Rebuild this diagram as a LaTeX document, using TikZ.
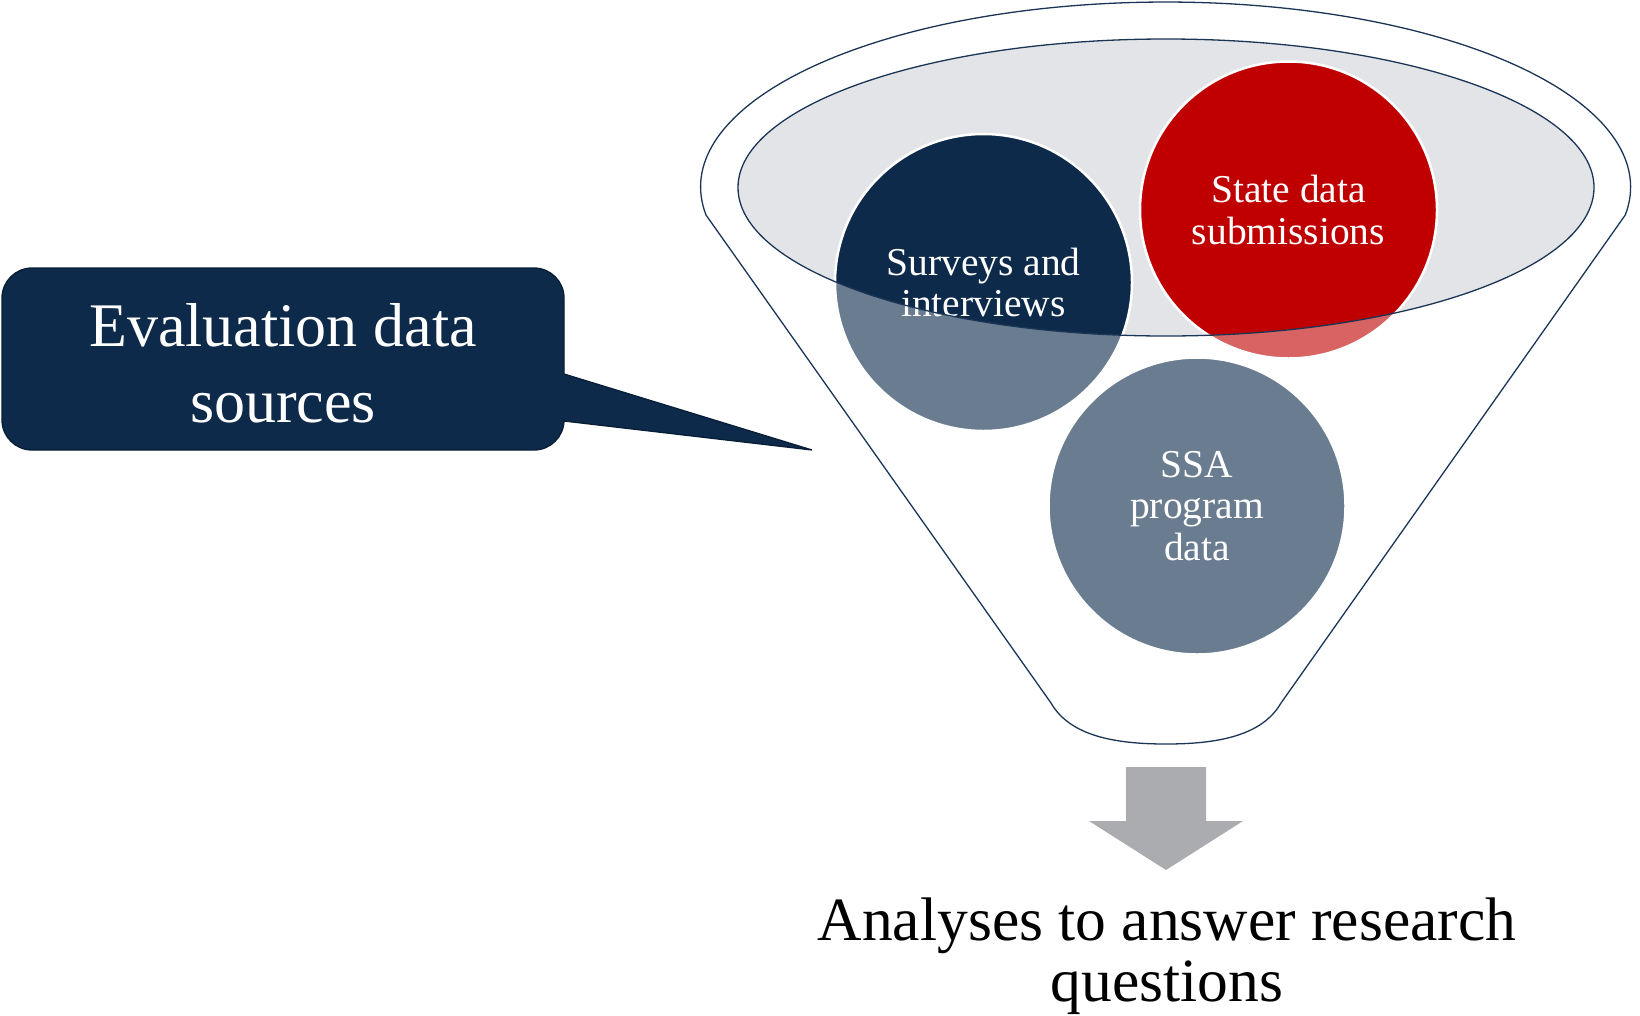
\documentclass[tikz,border=0pt]{standalone}
\usepackage{fontspec}
\setmainfont{Liberation Serif}
\definecolor{navy}{RGB}{13,42,74}
\definecolor{sred}{RGB}{192,0,0}
\definecolor{fline}{RGB}{27,53,86}
\definecolor{fgrey}{RGB}{227,228,231}
\definecolor{agrey}{RGB}{171,172,176}
\definecolor{cborder}{RGB}{8,30,55}
\begin{document}
\begin{tikzpicture}[x=1pt,y=-1pt,
  srccircle/.style={circle, minimum size=297pt, inner sep=0pt, draw=white, line width=2.5pt,
    text=white, align=center, font=\fontsize{39.5}{41.5}\selectfont},
  funnelline/.style={draw=fline, line width=1.3pt},
  bigtext/.style={align=center, inner sep=0pt}]
\useasboundingbox (0,0) rectangle (1640,1015);

% grey mouth of the funnel
\fill[fgrey] (1166,187.5) ellipse [x radius=428, y radius=148.5];

% data source circles
\node[srccircle, fill=navy] (surveys) at (983.5,282.5) {Surveys and\\interviews};
\node[srccircle, fill=sred] (state) at (1288.5,210) {State data\\submissions};
\node[srccircle, fill=navy] (ssa) at (1197,506) {SSA\\program\\data};

% translucent funnel body
\fill[white, opacity=0.39, even odd rule]
  (706,215) arc[start angle=171.3, end angle=368.7, x radius=465, y radius=185]
  -- (1281,703) .. controls (1262,736) and (1217,744) .. (1166,744)
  .. controls (1115,744) and (1070,736) .. (1051,703) -- cycle
  (1166,187.5) ellipse [x radius=428, y radius=148.5];

% funnel outlines
\draw[funnelline]
  (706,215) arc[start angle=171.3, end angle=368.7, x radius=465, y radius=185]
  -- (1281,703) .. controls (1262,736) and (1217,744) .. (1166,744)
  .. controls (1115,744) and (1070,736) .. (1051,703) -- cycle;
\draw[funnelline] (1166,187.5) ellipse [x radius=428, y radius=148.5];

% callout
\fill[navy, draw=cborder, line width=1.3pt]
  (32,268) -- (534,268) arc[start angle=270, end angle=360, radius=30]
  -- (564,374) -- (812,450) -- (564,421) -- (564,420)
  arc[start angle=0, end angle=90, radius=30]
  -- (32,450) arc[start angle=90, end angle=180, radius=30]
  -- (2,298) arc[start angle=180, end angle=270, radius=30] -- cycle;
\node[bigtext, text=white, font=\fontsize{62}{76}\selectfont] (callout) at (283,363)
  {Evaluation data\\sources};

% output arrow
\fill[agrey] (1126,767) -- (1206,767) -- (1206,821) -- (1243,821) -- (1166,870)
  -- (1089,821) -- (1126,821) -- cycle;

\node[bigtext, text=black, font=\fontsize{61.5}{61}\selectfont] (result) at (1167,956)
  {Analyses to answer research\\questions};
\end{tikzpicture}
\end{document}
